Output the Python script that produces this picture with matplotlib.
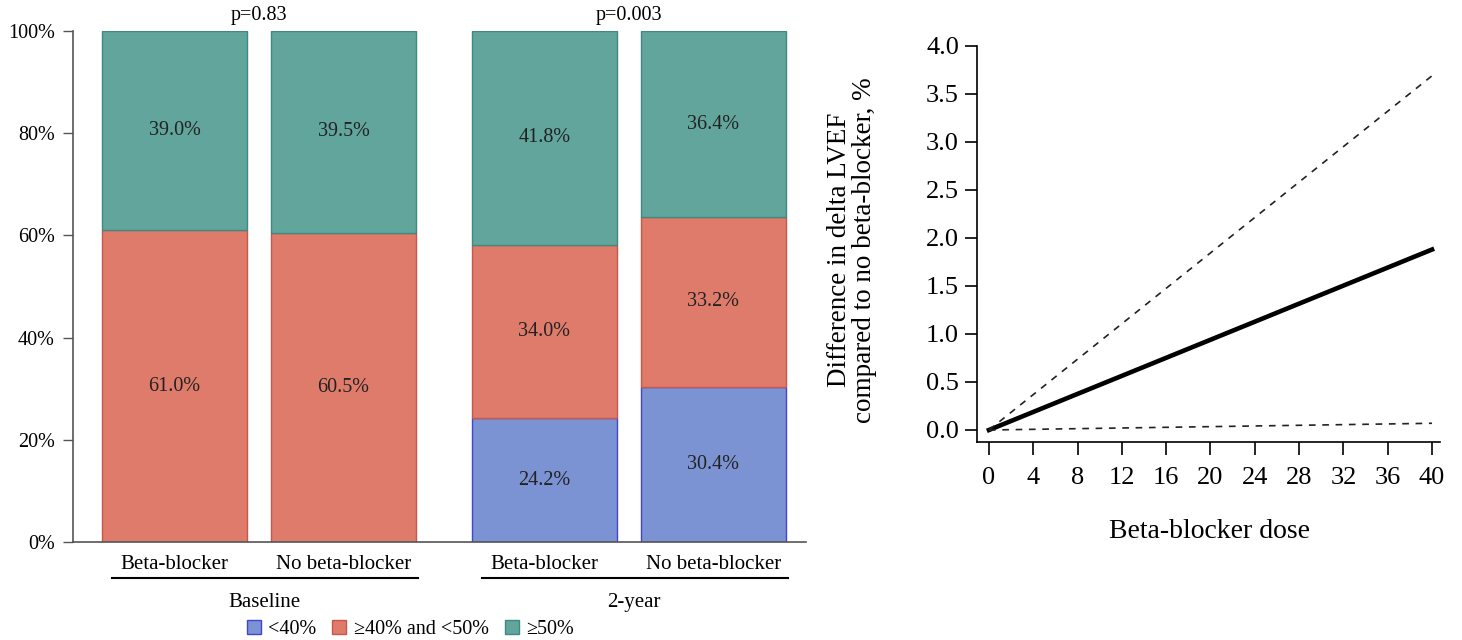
import numpy as np
import matplotlib
matplotlib.use('Agg')
import matplotlib.pyplot as plt
from matplotlib.patches import Patch
import matplotlib.transforms as mtransforms

plt.rcParams['font.family'] = ['Liberation Serif', 'DejaVu Serif']

# left panel data
groups = ['Baseline', '2-year']
bar_labels = ['Beta-blocker', 'No beta-blocker', 'Beta-blocker', 'No beta-blocker']
p_values = ['p=0.83', 'p=0.003']
lt40 = [0.0, 0.0, 24.2, 30.4]
mid = [61.0, 60.5, 34.0, 33.2]
ge50 = [39.0, 39.5, 41.8, 36.4]
legend_names = ['<40%', '\u226540% and <50%', '\u226550%']

# right panel data
dose = [0, 40]
estimate = [0.0, 1.88]
upper = [0.0, 3.69]
lower = [0.0, 0.07]

fill = ['#7b93d3', '#df7b6b', '#62a59c']
edge = ['#4444d4', '#c8564b', '#3f8a80']


def left_panel(fig):
    ax = fig.add_axes([73 / 1462, 1 - 542 / 640, 733 / 1462, 511 / 640])
    gap = 201 / 169
    pos = np.array([0, 1, gap + 1, gap + 2])
    width = 145 / 169
    bottom = np.zeros(4)
    for vals, fc, ec in zip([lt40, mid, ge50], fill, edge):
        vals = np.array(vals)
        ax.bar(pos, vals, width, bottom=bottom, color=fc, edgecolor=ec, linewidth=1)
        for x, b, v in zip(pos, bottom, vals):
            if v > 0:
                ax.text(x, b + v / 2, '{:.1f}%'.format(v), ha='center', va='center',
                        fontsize=14.5, color='#222222')
        bottom = bottom + vals

    ax.set_xlim(-0.601, 3.737)
    ax.set_ylim(0, 100)
    ax.set_yticks(range(0, 101, 20))
    ax.set_yticklabels(['{}%'.format(v) for v in range(0, 101, 20)])
    ax.set_xticks([])
    ax.tick_params(axis='y', length=7, width=1, pad=6, labelsize=14.5, color='#555555')
    for s in ['top', 'right']:
        ax.spines[s].set_visible(False)
    for s in ['left', 'bottom']:
        ax.spines[s].set_color('#555555')
        ax.spines[s].set_linewidth(1.2)

    trans = mtransforms.blended_transform_factory(ax.transData, ax.transAxes)
    for x, lab in zip(pos, bar_labels):
        ax.text(x, -0.045, lab, transform=trans, ha='center', va='center', fontsize=15)
    for g in range(2):
        a, b = pos[2 * g], pos[2 * g + 1]
        ax.plot([a - 0.37, b + 0.44], [-0.0705, -0.0705], transform=trans, color='black',
                lw=1.5, clip_on=False)
        ax.text((a + b) / 2 + 0.03, -0.119, groups[g], transform=trans, ha='center',
                va='center', fontsize=15)
        ax.text((a + b) / 2, 103.1, p_values[g], ha='center', va='center', fontsize=14.5)

    handles = [Patch(facecolor=fc, edgecolor=ec, linewidth=1) for fc, ec in zip(fill, edge)]
    ax.legend(handles, legend_names, ncol=3, frameon=False, loc='center',
              bbox_to_anchor=(0.46, -0.172), fontsize=14.5, handlelength=0.7,
              handleheight=0.7, handletextpad=0.35, columnspacing=0.8)


def right_panel(fig):
    ax = fig.add_axes([977 / 1462, 1 - 442 / 640, 463 / 1462, 396 / 640])
    ax.plot(dose, estimate, color='black', lw=3.3)
    ax.plot(dose, upper, color='#222222', lw=1.2, ls=(0, (4, 4)))
    ax.plot(dose, lower, color='#222222', lw=1.2, ls=(0, (4, 4)))
    ax.set_xlim(-1.08, 40.72)
    ax.set_ylim(-0.125, 4.0)
    ax.set_xticks(range(0, 41, 4))
    yt = np.arange(0, 4.01, 0.5)
    ax.set_yticks(yt)
    ax.set_yticklabels(['{:.1f}'.format(v) for v in yt])
    ax.tick_params(axis='x', length=9, width=1.2, pad=9, labelsize=19)
    ax.tick_params(axis='y', length=9, width=1.2, pad=4, labelsize=19)
    for s in ['top', 'right']:
        ax.spines[s].set_visible(False)
    for s in ['left', 'bottom']:
        ax.spines[s].set_linewidth(1.2)
    ax.set_xlabel('Beta-blocker dose', fontsize=20)
    ax.xaxis.set_label_coords(0.502, -0.195)
    fig.text(852 / 1462, 1 - 250 / 640,
             'Difference in delta LVEF\ncompared to no beta-blocker, %',
             rotation=90, ha='center', va='center', fontsize=19.5, linespacing=1.05)


def main():
    fig = plt.figure(figsize=(14.62, 6.4), dpi=100)
    left_panel(fig)
    right_panel(fig)
    fig.savefig('out.png', dpi=100)


if __name__ == '__main__':
    main()
